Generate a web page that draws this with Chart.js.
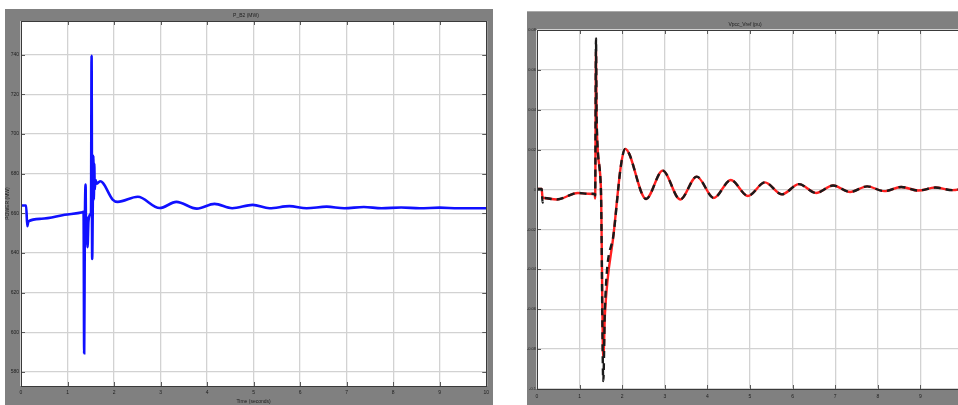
<!DOCTYPE html>
<html>
<head>
<meta charset="utf-8">
<script src="https://cdn.jsdelivr.net/npm/chart.js@4/dist/chart.umd.min.js"></script>
<style>
  html, body { margin: 0; padding: 0; background: #ffffff; overflow: hidden; width: 958px; height: 405px; }
  .win { position: absolute; background: #808080; }
  #winP { left: 5px; top: 9px; width: 488px; height: 396px; }
  #winV { left: 527px; top: 11px; width: 460px; height: 394px; border-top: 1px solid #a9a9a9; box-sizing: border-box; }
  canvas { position: absolute; left: 0; top: 0; }
</style>
</head>
<body>
<div class="win" id="winP"><canvas id="chartP" width="488" height="396"></canvas></div>
<div class="win" id="winV"><canvas id="chartV" width="460" height="393"></canvas></div>
<script>
// ---- Left scope: active power at bus B2 ----
const timeP = [0, 0.11, 0.135, 0.16, 0.44, 0.94, 1.32,
  1.345, 1.358, 1.372, 1.388, 1.40, 1.415, 1.43, 1.45, 1.49,
  1.505, 1.517, 1.53, 1.545, 1.555, 1.565, 1.575, 1.585, 1.60, 1.63, 1.70,
  1.76, 1.97, 2.08, 2.51, 2.98, 3.34, 3.78, 4.16, 4.54, 4.98, 5.34,
  5.77, 6.14, 6.57, 6.95, 7.37, 7.75, 8.17, 8.57, 9.0, 9.4, 10];
const powerP = [664, 664, 653.5, 656, 657.3, 659.3, 660.6,
  660.8, 589.5, 652, 674.5, 645, 658, 643, 656, 659.5,
  660.5, 739.5, 637, 670, 689, 667, 685, 672, 677, 675, 676.2,
  675.4, 667.0, 665.8, 668.4, 662.7, 665.8, 662.4, 664.8, 662.6, 664.3, 662.6,
  663.7, 662.6, 663.4, 662.6, 663.2, 662.6, 663.0, 662.6, 662.9, 662.6, 662.6];
const powerTicks = [580, 600, 620, 640, 660, 680, 700, 720, 740];
const timeTicks = [0, 1, 2, 3, 4, 5, 6, 7, 8, 9, 10];

// ---- Right scope: PCC voltage and its reference ----
const timeV = [0, 0.11, 0.13, 0.16, 0.46, 0.96, 1.2, 1.355, 1.365, 1.385,
  1.40, 1.50, 1.556, 1.596, 1.80, 1.97, 2.07,
  2.56, 2.95, 3.36, 3.75, 4.15, 4.55, 4.95, 5.35, 5.75, 6.15,
  6.55, 6.95, 7.35, 7.75, 8.15, 8.55, 8.95, 9.35, 9.75, 10];
const vpcc = [0.0003, 0.0003, -0.0040, -0.0042, -0.0050, -0.0017, -0.0021, -0.0022, -0.0045, 0.0690,
  0.0330, 0.0010, -0.0843, -0.0620, -0.0220, 0.0120, 0.0204,
  -0.0047, 0.0095, -0.0050, 0.0065, -0.0042, 0.0048, -0.0032, 0.0036, -0.0024, 0.0027,
  -0.0017, 0.0020, -0.0012, 0.0016, -0.0008, 0.0013, -0.0005, 0.0010, -0.0003, 0.0004];
const vref = [0.0003, 0.0003, -0.0065, -0.0042, -0.0050, -0.0017, -0.0021, -0.0022, -0.0030, 0.0758,
  0.0350, 0.0000, -0.0960, -0.0580, -0.0220, 0.0120, 0.0204,
  -0.0047, 0.0095, -0.0050, 0.0065, -0.0042, 0.0048, -0.0032, 0.0036, -0.0024, 0.0027,
  -0.0017, 0.0020, -0.0012, 0.0016, -0.0008, 0.0013, -0.0005, 0.0010, -0.0003, 0.0004];
const voltTicks = [-0.1, -0.08, -0.06, -0.04, -0.02, 0, 0.02, 0.04, 0.06, 0.08];
const voltTickLabels = ['-0.1', '-0.08', '-0.06', '-0.04', '-0.02', '0', '0.02', '0.04', '0.06', '0.08'];

const FONT = "'Liberation Sans', Arial, sans-serif";
const TXT = '#1e1e1e';
const GRID = '#d2d2d2';

const pts = (xs, ys) => xs.map((x, i) => ({ x: x, y: ys[i] }));

// White axes background, dark box and inward tick marks like a scope display
const scopeFrame = {
  id: 'scopeFrame',
  beforeDraw(chart) {
    const { ctx, chartArea: a } = chart;
    ctx.save();
    ctx.fillStyle = '#ffffff';
    ctx.fillRect(a.left, a.top, a.right - a.left, a.bottom - a.top);
    ctx.restore();
  },
  afterDatasetsDraw(chart) {
    const { ctx, chartArea: a, scales } = chart;
    ctx.save();
    ctx.strokeStyle = '#5a5a5a';
    ctx.lineWidth = 1;
    const len = 4;
    scales.x.ticks.forEach(t => {
      const px = Math.round(scales.x.getPixelForValue(t.value)) + 0.5;
      ctx.beginPath();
      ctx.moveTo(px, a.bottom); ctx.lineTo(px, a.bottom - len);
      ctx.moveTo(px, a.top); ctx.lineTo(px, a.top + len);
      ctx.stroke();
    });
    scales.y.ticks.forEach(t => {
      const py = Math.round(scales.y.getPixelForValue(t.value)) + 0.5;
      ctx.beginPath();
      ctx.moveTo(a.left, py); ctx.lineTo(a.left + len, py);
      ctx.moveTo(a.right, py); ctx.lineTo(a.right - len, py);
      ctx.stroke();
    });
    ctx.strokeStyle = '#3a3a3a';
    ctx.strokeRect(Math.round(a.left) + 0.5, Math.round(a.top) + 0.5,
      Math.round(a.right - a.left), Math.round(a.bottom - a.top));
    ctx.restore();
  }
};

function baseOptions(o) {
  return {
    responsive: false,
    devicePixelRatio: 1,
    animation: false,
    events: [],
    layout: { padding: { left: 0, right: o.padRight, top: 0, bottom: 0 } },
    plugins: {
      legend: { display: false },
      tooltip: { enabled: false },
      title: {
        display: true, text: o.title, color: TXT,
        font: { family: FONT, size: 5, weight: 'normal' },
        padding: { top: o.titleTop, bottom: o.titleBottom }
      }
    },
    scales: {
      x: {
        type: 'linear', min: 0, max: 10,
        afterBuildTicks: s => { s.ticks = timeTicks.map(v => ({ value: v })); },
        afterFit: s => { s.height = o.xHeight; },
        grid: { color: GRID, lineWidth: 1.3, drawTicks: false },
        border: { display: false },
        ticks: { color: TXT, font: { family: FONT, size: 5 }, padding: o.xPad, maxRotation: 0, autoSkip: false },
        title: o.xTitle ? { display: true, text: o.xTitle, color: TXT, font: { family: FONT, size: 5 }, padding: { top: 0, bottom: 0 } } : { display: false }
      },
      y: {
        type: 'linear', min: o.yMin, max: o.yMax,
        afterBuildTicks: s => { s.ticks = o.yTicks.map(v => ({ value: v })); },
        afterFit: s => { s.width = o.yWidth; },
        grid: { color: GRID, lineWidth: 1.3, drawTicks: false },
        border: { display: false },
        ticks: { color: TXT, font: { family: FONT, size: o.yFont }, padding: o.yPad, autoSkip: false, callback: o.yFmt },
        title: o.yTitle ? { display: true, text: o.yTitle, color: TXT, font: { family: FONT, size: 5 }, padding: { top: 0, bottom: 0 } } : { display: false }
      }
    }
  };
}

new Chart(document.getElementById('chartP'), {
  type: 'line',
  data: {
    datasets: [{
      data: pts(timeP, powerP),
      borderColor: '#1010ff',
      borderWidth: 2.6,
      pointRadius: 0,
      cubicInterpolationMode: 'monotone',
      fill: false
    }]
  },
  options: baseOptions({
    title: 'P_B2 (MW)', titleTop: 4, titleBottom: 2,
    padRight: 6, xHeight: 19, xPad: 4, yWidth: 16, yFont: 5, yPad: 2,
    yMin: 573, yMax: 757, yTicks: powerTicks,
    yFmt: v => String(v),
    xTitle: 'Time (seconds)', yTitle: 'POWER (MW)'
  }),
  plugins: [scopeFrame]
});

new Chart(document.getElementById('chartV'), {
  type: 'line',
  data: {
    datasets: [{
      label: 'Vref',
      data: pts(timeV, vref),
      borderColor: '#1a1a1a',
      borderWidth: 2.4,
      borderDash: [7, 5],
      pointRadius: 0,
      cubicInterpolationMode: 'monotone',
      fill: false,
      order: 0
    }, {
      label: 'Vpcc',
      data: pts(timeV, vpcc),
      borderColor: '#ff2020',
      borderWidth: 2.4,
      pointRadius: 0,
      cubicInterpolationMode: 'monotone',
      fill: false,
      order: 1
    }]
  },
  options: baseOptions({
    title: 'Vpcc_Vref (pu)', titleTop: 10, titleBottom: 2,
    padRight: 24, xHeight: 16, xPad: 5, yWidth: 10, yFont: 4, yPad: 1,
    yMin: -0.1, yMax: 0.08, yTicks: voltTicks,
    yFmt: v => { const i = voltTicks.findIndex(t => Math.abs(t - v) < 1e-9); return i >= 0 ? voltTickLabels[i] : ''; }
  }),
  plugins: [scopeFrame]
});
</script>
</body>
</html>
